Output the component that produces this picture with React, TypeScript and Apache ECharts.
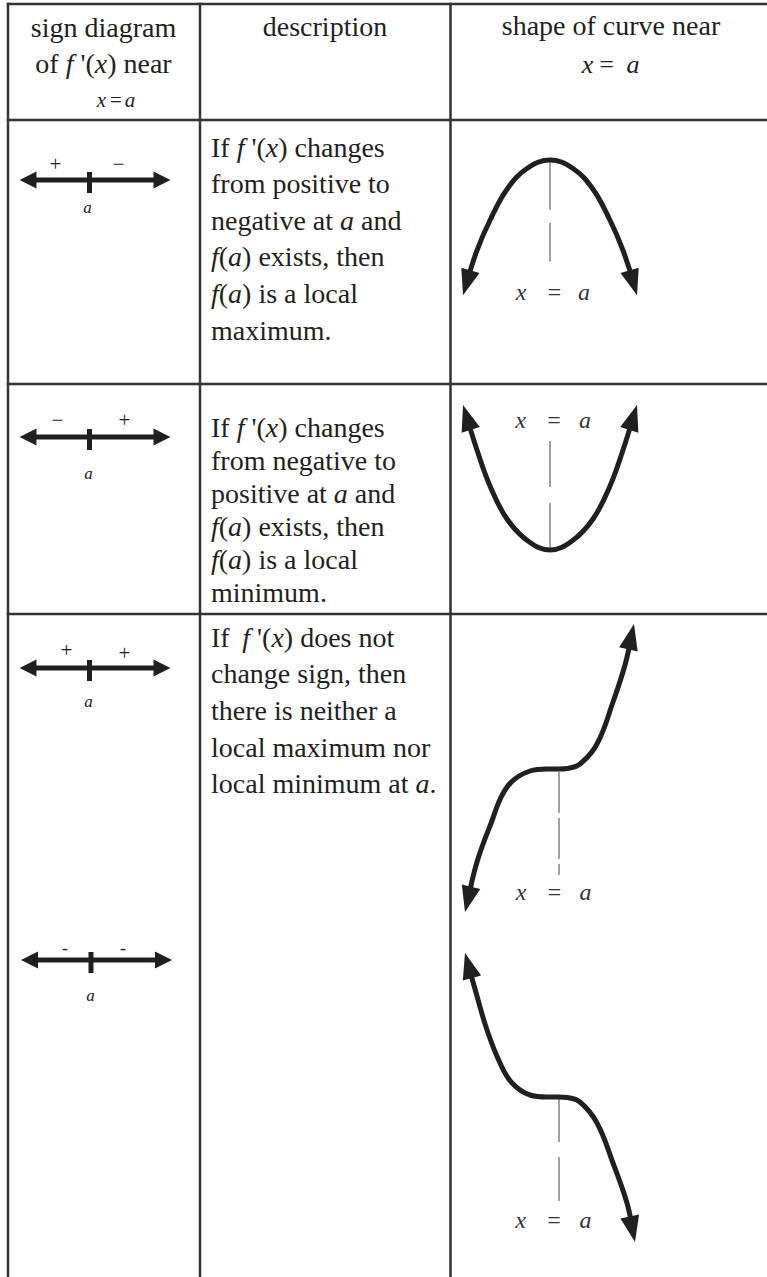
import React, { useEffect, useRef } from 'react';
import * as echarts from 'echarts';

// ---------------- text content ----------------
const headerSignLines = ['sign diagram', "of {i|f} '({i|x}) near"];
const headerDescLines = ['description'];
const headerShapeLines = ['shape of curve near'];
const eqPieces = ['x', '=', 'a'];

const descMax = [
  "If {i|f} '({i|x}) changes",
  'from positive to',
  'negative at {i|a} and',
  '{i|f}({i|a}) exists, then',
  '{i|f}({i|a}) is a local',
  'maximum.',
];
const descMin = [
  "If {i|f} '({i|x}) changes",
  'from negative to',
  'positive at {i|a} and',
  '{i|f}({i|a}) exists, then',
  '{i|f}({i|a}) is a local',
  'minimum.',
];
const descNone = [
  "If\u2009 {i|f} '({i|x}) does not",
  'change sign, then',
  'there is neither a',
  'local maximum nor',
  'local minimum at {i|a}.',
];

// ---------------- sign diagrams ----------------
const signsMax = ['+', '\u2212'];
const signsMin = ['\u2212', '+'];
const signsRise = ['+', '+'];
const signsFall = ['-', '-'];
const signAxisLine = [[-70, 0], [81, 0]]; // ends of the number line, offset from a
const signTick = [[0, 8], [0, -13]];

// ---------------- curves (offset from the point at x = a, y up) ----------------
const maxCurve = [
  [-87, -143], [-73, -96], [-60, -64], [-43, -31], [-23, -9], [0, 0],
  [23, -9], [43, -31], [60, -64], [73, -96], [87, -143],
];
const minCurve = [
  [-87, 145], [-73, 100], [-60, 64], [-43, 31], [-22, 9], [0, 0],
  [22, 9], [43, 31], [60, 64], [73, 100], [87, 145],
];
const riseCurve = [
  [-94, -143], [-82, -93], [-69, -57], [-52, -18], [-29, -2], [-12, 0], [0, 0],
  [8, 0.5], [21, 5], [38, 25], [54, 67], [66, 104], [75, 145],
];
const fallCurve = [
  [-94, 144], [-84, 108], [-72, 67], [-59, 34], [-47, 14], [-29, 2], [-12, 0], [0, 0],
  [8, -0.5], [21, -5], [38, -26], [54, -66], [68, -106], [76, -145],
];

// ---------------- layout (positions & styles) ----------------
const PAGE_W = 767;
const PAGE_H = 1277;
const SERIF = '"Liberation Serif", "Times New Roman", serif';
const INK = '#231f20';
const RULE = '#333333';
const BODY = 28;
const COLS = [8, 200, 450.5];
const ROWS = [4, 120, 384, 614];

const signPanels = [
  { ox: 89.5, oy: 180, signs: signsMax, sx: [-34, 29], sy: [16, 16], size: 21, ax: -2, ay: -27 },
  { ox: 89.5, oy: 437, signs: signsMin, sx: [-32, 35], sy: [17, 17], size: 21, ax: -1, ay: -36 },
  { ox: 89.5, oy: 668, signs: signsRise, sx: [-23, 35], sy: [18, 15], size: 21, ax: -1, ay: -33 },
  { ox: 91, oy: 960, signs: signsFall, sx: [-26, 32], sy: [12, 12], size: 18, ax: -0.5, ay: -35 },
];

const curvePanels = [
  { ox: 550, oy: 150, pts: maxCurve, axis: [[0, -2], [0, -108]], dash: [48, 13], lx: [521, 554.5, 584], lb: 300 },
  { ox: 550, oy: 550, pts: minCurve, axis: [[0, 109], [0, 2]], dash: [46, 16], lx: [520.5, 554, 585], lb: 428 },
  { ox: 559, oy: 769, pts: riseCurve, axis: [[0, -3], [0, -106]], dash: [41, 5], lx: [521, 554.5, 585.5], lb: 900 },
  { ox: 559, oy: 1097, pts: fallCurve, axis: [[0, -1], [0, -105]], dash: [44, 15], lx: [520.5, 554, 585.5], lb: 1228 },
];

const descBlocks = [
  { lines: descMax, first: 156.5, step: 36.6 },
  { lines: descMin, first: 437, step: 32.9 },
  { lines: descNone, first: 646.7, step: 36.65 },
];

function textEl(text: string, x: number, baseline: number, size: number, align: string, italic = false, color = INK) {
  return {
    type: 'text',
    x,
    y: baseline - 0.3375 * size,
    silent: true,
    z: 10,
    style: {
      text,
      fill: color,
      fontFamily: SERIF,
      fontSize: size,
      fontStyle: italic ? 'italic' : 'normal',
      textAlign: align,
      textVerticalAlign: 'middle',
      align,
      verticalAlign: 'middle',
      rich: {
        i: { fontStyle: 'italic', fontFamily: SERIF, fontSize: size, fill: color },
      },
    },
  };
}

function arrowAt(tip: number[], prev: number[], len: number) {
  const dx = tip[0] - prev[0];
  const dy = tip[1] - prev[1];
  const d = Math.hypot(dx, dy) || 1;
  const ux = dx / d;
  const uy = dy / d;
  return {
    center: [tip[0] - (ux * len) / 2, tip[1] - (uy * len) / 2],
    rot: (Math.atan2(-ux, uy) * 180) / Math.PI,
  };
}

function buildOption() {
  const grid: any[] = [];
  const xAxis: any[] = [];
  const yAxis: any[] = [];
  const series: any[] = [];
  const elements: any[] = [];

  const addPanel = (ox: number, oy: number, hx: number, hy: number) => {
    const idx = grid.length;
    grid.push({ left: ox - hx, top: oy - hy, width: 2 * hx, height: 2 * hy, show: false });
    xAxis.push({ type: 'value', gridIndex: idx, min: -hx, max: hx, show: false });
    yAxis.push({ type: 'value', gridIndex: idx, min: -hy, max: hy, show: false });
    return idx;
  };

  // table rules
  COLS.forEach((x) => {
    elements.push({ type: 'line', silent: true, shape: { x1: x, y1: ROWS[0] - 1.25, x2: x, y2: PAGE_H }, style: { stroke: RULE, lineWidth: 2.5 } });
  });
  ROWS.forEach((y) => {
    elements.push({ type: 'line', silent: true, shape: { x1: COLS[0] - 1.25, y1: y, x2: PAGE_W, y2: y }, style: { stroke: RULE, lineWidth: 2.5 } });
  });

  // headers
  const c1 = 103.5;
  elements.push(textEl(headerSignLines[0], c1, 36.7, BODY, 'center'));
  elements.push(textEl(headerSignLines[1], c1, 73.3, BODY, 'center'));
  [101.5, 116, 130].forEach((x, i) => elements.push(textEl(eqPieces[i], x, 107.5, 21, 'center', i !== 1)));
  elements.push(textEl(headerDescLines[0], 325, 36, BODY, 'center'));
  elements.push(textEl(headerShapeLines[0], 611, 35, BODY, 'center'));
  [587.5, 606.7, 633].forEach((x, i) => elements.push(textEl(eqPieces[i], x, 73.3, 26, 'center', i !== 1)));

  // descriptions
  descBlocks.forEach((b) => {
    b.lines.forEach((ln, i) => elements.push(textEl(ln, 211, b.first + i * b.step, BODY, 'left')));
  });

  // sign diagrams
  signPanels.forEach((p) => {
    const g = addPanel(p.ox, p.oy, 85, 50);
    const left = arrowAt(signAxisLine[0], signAxisLine[1], 17);
    const right = arrowAt(signAxisLine[1], signAxisLine[0], 17);
    series.push({
      type: 'line', xAxisIndex: g, yAxisIndex: g, data: [left.center, right.center],
      symbol: 'none', silent: true, lineStyle: { color: INK, width: 5 }, z: 3,
    });
    series.push({
      type: 'line', xAxisIndex: g, yAxisIndex: g, data: signTick,
      symbol: 'none', silent: true, lineStyle: { color: INK, width: 5 }, z: 3,
    });
    series.push({
      type: 'scatter', xAxisIndex: g, yAxisIndex: g, silent: true, z: 4,
      symbol: 'triangle', symbolSize: [17, 17], itemStyle: { color: INK, opacity: 1 },
      data: [left, right].map((a) => ({ value: a.center, symbolRotate: a.rot })),
    });
    p.signs.forEach((s, i) => {
      elements.push({
        ...textEl(s, p.ox + p.sx[i], 0, p.size, 'center'),
        y: p.oy - p.sy[i],
      });
    });
    elements.push({ ...textEl('a', p.ox + p.ax, 0, 17, 'center', true), y: p.oy - p.ay });
  });

  // curves
  curvePanels.forEach((p) => {
    const g = addPanel(p.ox, p.oy, 120, 170);
    const pts = p.pts;
    const n = pts.length;
    const a0 = arrowAt(pts[0], pts[1], 26);
    const a1 = arrowAt(pts[n - 1], pts[n - 2], 26);
    const lineData = [a0.center, ...pts.slice(1, n - 1), a1.center];
    series.push({
      type: 'line', xAxisIndex: g, yAxisIndex: g, data: p.axis, symbol: 'none', silent: true, z: 2,
      lineStyle: { color: '#444', width: 1, type: p.dash },
    });
    series.push({
      type: 'line', xAxisIndex: g, yAxisIndex: g, data: lineData, symbol: 'none', silent: true, z: 3,
      smooth: 0.4, lineStyle: { color: INK, width: 5 },
    });
    series.push({
      type: 'scatter', xAxisIndex: g, yAxisIndex: g, silent: true, z: 4,
      symbol: 'triangle', symbolSize: [19, 26], itemStyle: { color: INK, opacity: 1 },
      data: [a0, a1].map((a) => ({ value: a.center, symbolRotate: a.rot })),
    });
    p.lx.forEach((x, i) => elements.push(textEl(eqPieces[i], x, p.lb, 24, 'center', i !== 1, '#333333')));
  });

  return {
    animation: false,
    backgroundColor: '#ffffff',
    grid,
    xAxis,
    yAxis,
    series,
    graphic: { elements },
  };
}

export default function App() {
  const ref = useRef<HTMLDivElement>(null);
  useEffect(() => {
    if (!ref.current) return;
    const chart = echarts.init(ref.current, undefined, { renderer: 'svg' });
    chart.setOption(buildOption() as any);
    return () => chart.dispose();
  }, []);
  return (
    <div
      ref={ref}
      style={{ position: 'absolute', left: 0, top: 0, width: PAGE_W, height: PAGE_H, background: '#fff' }}
    />
  );
}
